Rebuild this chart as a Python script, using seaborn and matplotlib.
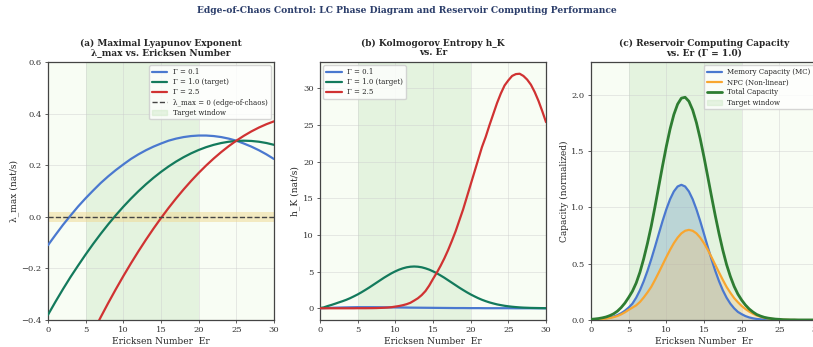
import matplotlib
matplotlib.use("Agg")
import matplotlib.pyplot as plt
import seaborn as sns
import pandas as pd
from matplotlib.patches import Patch
from matplotlib.lines import Line2D

er = list(range(0, 31))
er_fine = [i * 0.5 for i in range(61)]

# (a) maximal Lyapunov exponent (sampled at integer Er)
lam_g01 = [-0.110, -0.070, -0.031, 0.005, 0.040, 0.072, 0.102, 0.131, 0.157, 0.181,
           0.203, 0.224, 0.242, 0.258, 0.272, 0.284, 0.295, 0.303, 0.309, 0.313,
           0.315, 0.315, 0.313, 0.309, 0.303, 0.295, 0.284, 0.272, 0.258, 0.242, 0.224]
lam_g10 = [-0.380, -0.329, -0.280, -0.233, -0.189, -0.146, -0.105, -0.066, -0.029, 0.006,
           0.039, 0.070, 0.099, 0.126, 0.151, 0.174, 0.195, 0.214, 0.231, 0.246,
           0.259, 0.270, 0.279, 0.286, 0.291, 0.294, 0.295, 0.294, 0.291, 0.286, 0.279]
lam_g25 = [-0.830, -0.761, -0.694, -0.629, -0.566, -0.505, -0.446, -0.389, -0.334, -0.281,
           -0.230, -0.181, -0.134, -0.089, -0.046, -0.005, 0.034, 0.071, 0.106, 0.139,
           0.170, 0.199, 0.226, 0.251, 0.274, 0.295, 0.314, 0.331, 0.346, 0.359, 0.370]

# (b) Kolmogorov entropy
hk_g01 = [0.00, 0.04, 0.08, 0.11, 0.13, 0.15, 0.15, 0.15, 0.14, 0.13,
          0.12, 0.11, 0.09, 0.08, 0.07, 0.06, 0.05, 0.04, 0.03, 0.03,
          0.02, 0.02, 0.01, 0.01, 0.01, 0.01, 0.00, 0.00, 0.00, 0.00, 0.00]
# sampled every 0.5 in Er
hk_g10 = [0.03, 0.12, 0.30, 0.45, 0.62, 0.80, 0.97, 1.16, 1.38, 1.63,
          1.89, 2.18, 2.49, 2.81, 3.15, 3.49, 3.83, 4.17, 4.48, 4.78,
          5.04, 5.27, 5.45, 5.59, 5.67, 5.70, 5.67, 5.59, 5.45, 5.27,
          5.04, 4.78, 4.48, 4.17, 3.83, 3.49, 3.15, 2.81, 2.49, 2.18,
          1.89, 1.63, 1.38, 1.16, 0.97, 0.80, 0.66, 0.53, 0.43, 0.34,
          0.27, 0.21, 0.16, 0.12, 0.09, 0.07, 0.05, 0.04, 0.03, 0.02, 0.01]
hk_g25 = [0.00, 0.00, 0.00, 0.00, 0.00, 0.00, 0.00, 0.00, 0.00, 0.00,
          0.01, 0.01, 0.01, 0.015, 0.02, 0.03, 0.05, 0.07, 0.10, 0.15,
          0.23, 0.31, 0.42, 0.56, 0.75, 1.05, 1.37, 1.80, 2.35, 3.10,
          4.00, 4.85, 5.78, 6.80, 7.93, 9.18, 10.5, 12.0, 13.5, 15.2,
          16.9, 18.6, 20.3, 22.0, 23.4, 25.0, 26.5, 28.0, 29.3, 30.4,
          31.1, 31.7, 31.95, 32.0, 31.7, 31.2, 30.5, 29.5, 28.3, 26.9, 25.4]

# (c) reservoir computing capacity, Gamma = 1.0 (every 0.5 in Er)
mc = [0.003, 0.005, 0.007, 0.010, 0.015, 0.021, 0.030, 0.043, 0.060, 0.082,
      0.110, 0.145, 0.198, 0.264, 0.344, 0.436, 0.539, 0.650, 0.765, 0.878,
      0.982, 1.072, 1.141, 1.185, 1.200, 1.185, 1.141, 1.072, 0.982, 0.878,
      0.765, 0.650, 0.539, 0.436, 0.344, 0.264, 0.198, 0.145, 0.104, 0.072,
      0.052, 0.035, 0.023, 0.015, 0.009, 0.006, 0.004, 0.003, 0.002, 0.001,
      0.001, 0.0, 0.0, 0.0, 0.0, 0.0, 0.0, 0.0, 0.0, 0.0, 0.0]
npc = [0.003, 0.004, 0.006, 0.009, 0.012, 0.018, 0.025, 0.035, 0.050, 0.068,
       0.090, 0.110, 0.130, 0.160, 0.200, 0.245, 0.294, 0.356, 0.422, 0.490,
       0.558, 0.623, 0.682, 0.731, 0.769, 0.792, 0.800, 0.792, 0.769, 0.731,
       0.682, 0.623, 0.558, 0.490, 0.422, 0.356, 0.294, 0.242, 0.195, 0.158,
       0.125, 0.098, 0.075, 0.056, 0.040, 0.029, 0.020, 0.014, 0.010, 0.007,
       0.005, 0.003, 0.002, 0.001, 0.001, 0.0, 0.0, 0.0, 0.0, 0.0, 0.0]
total = [0.006, 0.009, 0.013, 0.019, 0.027, 0.039, 0.055, 0.078, 0.110, 0.150,
         0.200, 0.255, 0.328, 0.424, 0.544, 0.681, 0.833, 1.006, 1.187, 1.368,
         1.540, 1.695, 1.823, 1.916, 1.969, 1.977, 1.941, 1.864, 1.751, 1.609,
         1.447, 1.273, 1.097, 0.926, 0.766, 0.620, 0.492, 0.387, 0.299, 0.230,
         0.177, 0.133, 0.098, 0.071, 0.049, 0.035, 0.024, 0.017, 0.012, 0.008,
         0.006, 0.003, 0.002, 0.001, 0.001, 0.0, 0.0, 0.0, 0.0, 0.0, 0.0]

gamma_labels = ["Γ = 0.1", "Γ = 1.0 (target)", "Γ = 2.5"]
window = (5, 20)

c_blue = "#4a78cf"
c_green = "#137a5c"
c_red = "#d03232"
c_orange = "#f8a630"
c_total = "#2e7d32"
bg = "#f8fdf4"
win_col = "#c8e6c0"

sns.set_theme(style="ticks")
plt.rcParams["font.family"] = ["DejaVu Serif"]
plt.rcParams["axes.edgecolor"] = "#444444"
plt.rcParams["xtick.color"] = "#444444"
plt.rcParams["ytick.color"] = "#444444"
plt.rcParams["xtick.labelcolor"] = "#333333"
plt.rcParams["ytick.labelcolor"] = "#333333"

fig = plt.figure(figsize=(8.13, 3.47), dpi=100)
ax1 = fig.add_axes([0.0590, 0.0778, 0.2780, 0.7435])
ax2 = fig.add_axes([0.3936, 0.0778, 0.2780, 0.7435])
ax3 = fig.add_axes([0.7269, 0.0778, 0.2780, 0.7435])

for ax in (ax1, ax2, ax3):
    ax.set_facecolor(bg)
    ax.axvspan(*window, color=win_col, alpha=0.4, lw=0, zorder=0)
    ax.grid(True, color="#cccccc", alpha=0.5, lw=0.6)
    ax.tick_params(labelsize=6, length=2.5, width=0.6, pad=2)
    for s in ax.spines.values():
        s.set_linewidth(0.9)
    ax.set_xlim(0, 30)
    ax.set_xlabel("Ericksen Number  Er", fontsize=6.5, labelpad=2)

# panel a
df_a = pd.DataFrame({"Er": er * 3,
                     "lam": lam_g01 + lam_g10 + lam_g25,
                     "Gamma": [gamma_labels[0]] * 31 + [gamma_labels[1]] * 31 + [gamma_labels[2]] * 31})
ax1.axhspan(-0.02, 0.02, color="#f0d890", alpha=0.5, lw=0, zorder=1)
sns.lineplot(data=df_a, x="Er", y="lam", hue="Gamma", palette=[c_blue, c_green, c_red],
             lw=1.6, ax=ax1, legend=False, zorder=3)
ax1.axhline(0, color="#444444", ls="--", lw=1.0, zorder=4)
ax1.set_ylim(-0.4, 0.6)
ax1.set_ylabel("λ_max (nat/s)", fontsize=6.5, labelpad=2)
ax1.set_title("(a) Maximal Lyapunov Exponent\nλ_max vs. Ericksen Number",
              fontsize=6.5, fontweight="bold", pad=5, linespacing=1.0)
h_a = [Line2D([], [], color=c, lw=1.6) for c in (c_blue, c_green, c_red)]
h_a.append(Line2D([], [], color="#444444", ls="--", lw=1.0))
h_a.append(Patch(color=win_col, alpha=0.4))
ax1.legend(h_a, gamma_labels + ["λ_max = 0 (edge-of-chaos)", "Target window"],
           loc="upper right", fontsize=5, frameon=True, handlelength=2.2,
           borderpad=0.4, labelspacing=0.3)

# panel b
sns.lineplot(x=er, y=hk_g01, color=c_blue, lw=1.6, ax=ax2, zorder=3)
sns.lineplot(x=er_fine, y=hk_g10, color=c_green, lw=1.6, ax=ax2, zorder=3)
sns.lineplot(x=er_fine, y=hk_g25, color=c_red, lw=1.6, ax=ax2, zorder=3)
ax2.set_ylabel("h_K (nat/s)", fontsize=6.5, labelpad=2)
ax2.set_title("(b) Kolmogorov Entropy h_K\nvs. Er",
              fontsize=6.5, fontweight="bold", pad=5, linespacing=1.0)
h_b = [Line2D([], [], color=c, lw=1.6) for c in (c_blue, c_green, c_red)]
ax2.legend(h_b, gamma_labels, loc="upper left", fontsize=5, frameon=True,
           handlelength=2.2, borderpad=0.4, labelspacing=0.3)

# panel c
ax3.fill_between(er_fine, mc, color="#6f9fc8", alpha=0.35, lw=0, zorder=2)
ax3.fill_between(er_fine, npc, color="#f8c070", alpha=0.3, lw=0, zorder=2)
sns.lineplot(x=er_fine, y=mc, color=c_blue, lw=1.6, ax=ax3, zorder=3)
sns.lineplot(x=er_fine, y=npc, color=c_orange, lw=1.6, ax=ax3, zorder=3)
sns.lineplot(x=er_fine, y=total, color=c_total, lw=2.0, ax=ax3, zorder=4)
ax3.set_ylim(0, 2.29)
ax3.set_ylabel("Capacity (normalized)", fontsize=6.5, labelpad=2)
ax3.set_title("(c) Reservoir Computing Capacity\nvs. Er (Γ = 1.0)",
              fontsize=6.5, fontweight="bold", pad=5, linespacing=1.0)
h_c = [Line2D([], [], color=c_blue, lw=1.6), Line2D([], [], color=c_orange, lw=1.6),
       Line2D([], [], color=c_total, lw=2.0), Patch(color=win_col, alpha=0.4)]
ax3.legend(h_c, ["Memory Capacity (MC)", "NPC (Non-linear)", "Total Capacity", "Target window"],
           loc="upper right", fontsize=5, frameon=True, handlelength=2.2,
           borderpad=0.4, labelspacing=0.3)

fig.suptitle("Edge-of-Chaos Control: LC Phase Diagram and Reservoir Computing Performance",
             x=0.5, y=0.982, fontsize=6.6, fontweight="bold", color="#2c3e6b")

fig.savefig("out.png", dpi=100)
